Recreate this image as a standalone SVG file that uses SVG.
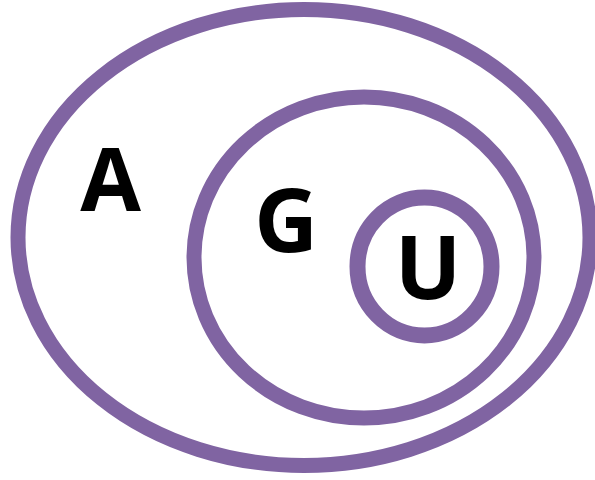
<svg xmlns="http://www.w3.org/2000/svg" width="595" height="480" viewBox="0 0 595 480">
<style>
.ring{fill:none;stroke:#8064A2;stroke-width:15}
.lbl{font-family:"Open Sans","Liberation Sans",sans-serif;font-weight:700;font-size:88px;fill:#000;text-anchor:middle}
</style>
<rect width="595" height="480" fill="#fff"/>
<g id="A">
<ellipse class="ring" cx="304" cy="237.5" rx="286" ry="228"/>
<text class="lbl" x="110.5" y="211">A</text>
</g>
<g id="G">
<ellipse class="ring" cx="364" cy="257.5" rx="170" ry="160.5"/>
<text class="lbl" x="286" y="252">G</text>
</g>
<g id="U">
<ellipse class="ring" cx="424.5" cy="266.5" rx="67" ry="69" style="stroke-width:16"/>
<text class="lbl" x="428" y="299">U</text>
</g>
<g id="connectors"/>
</svg>
